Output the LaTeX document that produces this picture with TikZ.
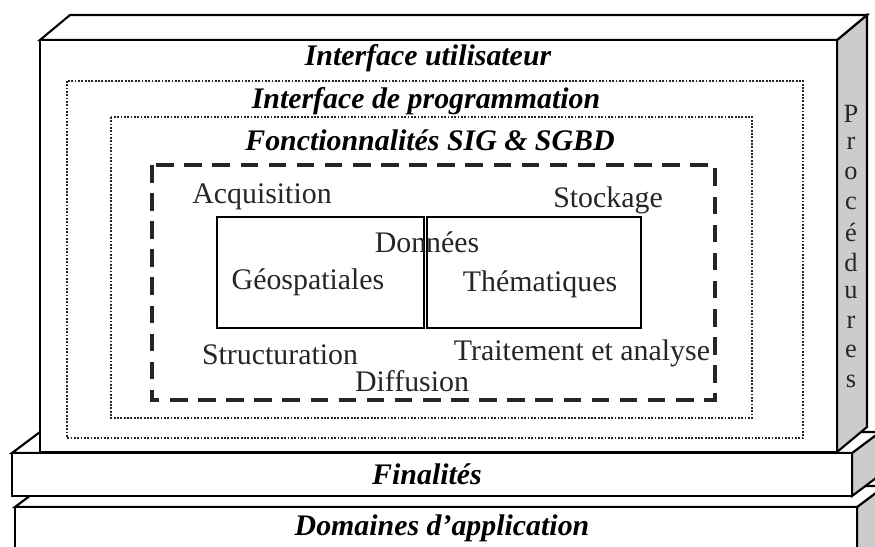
\documentclass[tikz,border=0pt]{standalone}
\usepackage{fontspec}
\setmainfont{Liberation Serif}
\usepackage{xcolor}
\usepackage{tikz}
\usetikzlibrary{positioning}

\tikzset{
  bord/.style={draw=black, line width=1.2pt, line join=miter},
  face/.style={bord, fill=white},
  cote/.style={bord, fill=gray!40},
  pointille/.style={draw=black!85, line width=1.4pt, dash pattern=on 1pt off 0.9pt},
  tirets/.style={draw=black!85, line width=1.8pt, dash pattern=on 10pt off 6pt},
  titre/.style={font=\fontsize{17}{20}\selectfont\bfseries\itshape, inner sep=0pt},
  lbl/.style={font=\fontsize{17}{20}\selectfont, text=black!85, inner sep=0pt},
  lettre/.style={font=\fontsize{15}{18}\selectfont, text=black!85, inner sep=0pt}
}

\begin{document}
\begin{tikzpicture}[x=0.02cm, y=-0.02cm]
  \useasboundingbox (0,0) rectangle (875,547);
  \clip (0,0) rectangle (875,547);

  % socle : domaines d'application
  \path[cote] (857,507) -- (885,486) -- (885,580) -- (857,600) -- cycle;
  \path[face] (15,507) -- (43,486) -- (885,486) -- (857,507) -- cycle;
  \path[face] (15,507) rectangle (857,600);

  % socle : finalites
  \path[cote] (852,453) -- (880,432) -- (880,475) -- (852,496) -- cycle;
  \path[face] (12,453) -- (40,432) -- (880,432) -- (852,453) -- cycle;
  \path[face] (12,453) rectangle (852,496);

  % bloc principal
  \path[cote] (837,40) -- (867,15) -- (867,427) -- (837,452) -- cycle;
  \path[face] (40,40) -- (70,15) -- (867,15) -- (837,40) -- cycle;
  \path[face] (40,40) rectangle (837,452);

  % couches internes
  \draw[pointille] (67,81) rectangle (803,438);
  \draw[pointille] (111,117) rectangle (752,418);
  \draw[tirets] (152,165) rectangle (715,400);

  % donnees
  \draw[line width=1.3pt] (217,217) rectangle (424,328);
  \draw[line width=1.3pt] (427,217) rectangle (641,328);

  \node[titre] (iu) at (428,58) {Interface utilisateur};
  \node[titre] (ip) at (426,101) {Interface de programmation};
  \node[titre] (fct) at (430,140) {Fonctionnalités SIG \& SGBD};

  \node[lbl] (acq) at (262,197) {Acquisition};
  \node[lbl] (stock) at (608,200) {Stockage};
  \node[lbl] (don) at (427,242) {Données};
  \node[lbl] (geo) at (308,282) {Géospatiales};
  \node[lbl] (them) at (540,284) {Thématiques};
  \node[lbl] (struct) at (280,355) {Structuration};
  \node[lbl] (trait) at (582,353) {Traitement et analyse};
  \node[lbl] (diff) at (412,381) {Diffusion};

  \foreach \l [count=\i from 0] in {P,r,o,c,é,d,u,r,e,s}
    \node[lettre] (proc\i) at (851,114+29.7*\i) {\l};

  \node[titre] (fin) at (427,474) {Finalités};
  \node[titre] (dom) at (442,528) {Domaines d’application};
\end{tikzpicture}
\end{document}
